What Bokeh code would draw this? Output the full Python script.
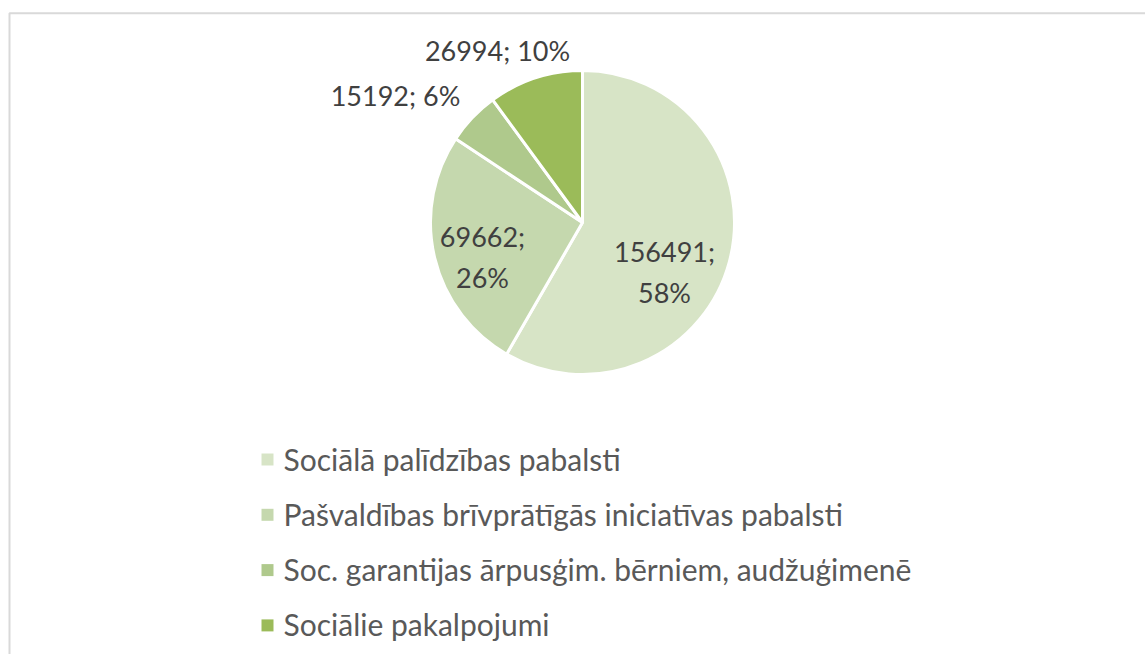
import math
from bokeh.plotting import figure
from bokeh.models import Range1d, ColumnDataSource
from bokeh.core.properties import value
from bokeh.embed import file_html
from bokeh.resources import INLINE

# ---- data ----
categories = [
    "Sociālā palīdzības pabalsti",
    "Pašvaldības brīvprātīgās iniciatīvas pabalsti",
    "Soc. garantijas ārpusģim. bērniem, audžuģimenē",
    "Sociālie pakalpojumi",
]
values = [156491, 69662, 15192, 26994]
percent_labels = ["58%", "26%", "6%", "10%"]
colors = ["#d7e4c6", "#c5d8ae", "#afc98c", "#9bbb59"]

# ---- layout ----
W, H = 1145, 654
CX, CY, R = 582, 432, 152
FONT = value("Lato")
TXT_SHIFT = 12  # compensate baseline offset of svg text

p = figure(width=W, height=H, output_backend="svg", toolbar_location=None,
           x_range=Range1d(0, W), y_range=Range1d(0, H),
           min_border=0, min_border_left=0, min_border_right=0,
           min_border_top=0, min_border_bottom=0)
p.axis.visible = False
p.grid.visible = False
p.outline_line_color = None
p.background_fill_color = "white"
p.border_fill_color = "white"

# border (top + left)
p.line([9, 9, W], [0, 641.2, 641.2], line_color="#d9d9d9", line_width=2)

# wedges
total = sum(values)
starts, ends = [], []
cum = 0.0
for v in values:
    starts.append(math.pi / 2 - 2 * math.pi * cum / total)
    cum += v
    ends.append(math.pi / 2 - 2 * math.pi * cum / total)

src = ColumnDataSource(dict(start=starts, end=ends, color=colors, cat=categories))
p.wedge(x=CX, y=CY, radius=R, start_angle="start", end_angle="end",
        direction="clock", fill_color="color", line_color="white",
        line_width=3, source=src)

# data labels (best-fit placement like Excel): offsets from centre
label_lines = [
    [f"{values[0]};", percent_labels[0]],
    [f"{values[1]};", percent_labels[1]],
    [f"{values[2]}; {percent_labels[2]}"],
    [f"{values[3]}; {percent_labels[3]}"],
]
label_anchor = [(82, -41), (-100, -26), (-187, 115), (-85, 160)]  # dx, baseline dy of first line
LINE_GAP = 41
lx, ly, lt = [], [], []
for lines, (dx, dy) in zip(label_lines, label_anchor):
    for k, t in enumerate(lines):
        lx.append(CX + dx)
        ly.append(CY + dy - k * LINE_GAP + TXT_SHIFT)
        lt.append(t)
p.text(x=lx, y=ly, text=lt, text_font=FONT, text_font_size="27px",
       text_color="#404040", text_align="center", text_baseline="alphabetic")

# legend
LEG_X, LEG_Y0, LEG_STEP = 267, 195, 55.3
leg_y = [LEG_Y0 - i * LEG_STEP for i in range(len(categories))]
p.scatter(x=[LEG_X] * len(categories), y=leg_y, marker="square", size=12,
          fill_color=colors, line_color=None)
p.text(x=[283] * len(categories), y=[y - 11 + TXT_SHIFT for y in leg_y], text=categories,
       text_font=FONT, text_font_size="30px", text_color="#595959",
       text_align="left", text_baseline="alphabetic")

open("out.html", "w").write(file_html(p, INLINE))
